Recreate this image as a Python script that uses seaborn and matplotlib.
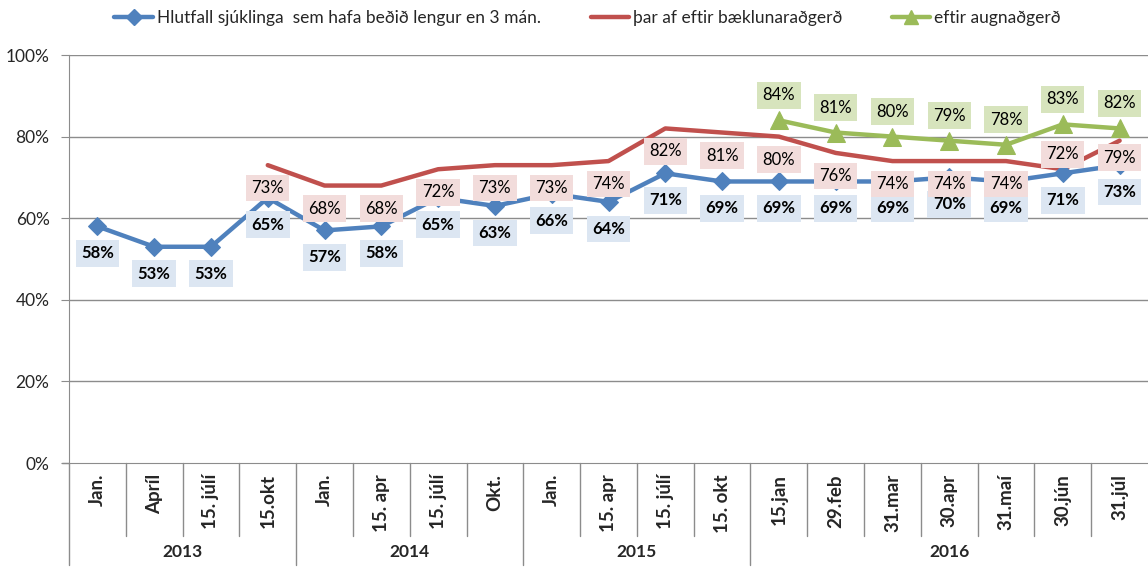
import matplotlib
matplotlib.use("Agg")
import matplotlib.pyplot as plt
import numpy as np
import pandas as pd
import seaborn as sns
from matplotlib.lines import Line2D

# categories (x axis) and year groups
dates = ["Jan.", "Apríl", "15. júlí", "15.okt",
         "Jan.", "15. apr", "15. júlí", "Okt.",
         "Jan.", "15. apr", "15. júlí", "15. okt",
         "15.jan", "29.feb", "31.mar", "30.apr", "31.maí", "30.jún", "31.júl"]
years = ["2013", "2014", "2015", "2016"]
year_sizes = [4, 4, 4, 7]

# series values (%)
bidlisti = [58, 53, 53, 65, 57, 58, 65, 63, 66, 64, 71, 69, 69, 69, 69, 70, 69, 71, 73]
baeklun = [73, 68, 68, 72, 73, 73, 74, 82, 81, 80, 76, 74, 74, 74, 72, 79]  # from 15.okt 2013
augu = [84, 81, 80, 79, 78, 83, 82]  # from 15.jan 2016

names = ["Hlutfall sjúklinga  sem hafa beðið lengur en 3 mán.",
         "þar af eftir bæklunaraðgerð",
         "eftir augnaðgerð"]

BLUE, RED, GREEN = "#4F81BD", "#C0504D", "#9BBB59"
GRID = "#8C8C8C"

sns.set_style("white")
plt.rcParams["font.family"] = ["Lato", "DejaVu Sans"]

n = len(dates)
df_blue = pd.DataFrame({"x": np.arange(n), "y": bidlisti})
df_red = pd.DataFrame({"x": np.arange(n - len(baeklun), n), "y": baeklun})
df_green = pd.DataFrame({"x": np.arange(n - len(augu), n), "y": augu})

fig = plt.figure(figsize=(11.48, 5.73), dpi=100)
ax = fig.add_axes([69 / 1148, 1 - 463 / 573, 1 - 69 / 1148, (463 - 55) / 573])

sns.lineplot(data=df_blue, x="x", y="y", ax=ax, color=BLUE, lw=3.2, marker="D",
             markersize=9, markeredgecolor=BLUE, zorder=4)
sns.lineplot(data=df_red, x="x", y="y", ax=ax, color=RED, lw=3.2, zorder=3)
sns.lineplot(data=df_green, x="x", y="y", ax=ax, color=GREEN, lw=3.2, marker="^",
             markersize=13, markeredgecolor=GREEN, zorder=5)

ax.set_xlim(-0.5, n - 0.5)
ax.set_ylim(0, 100)
ax.set_yticks(range(0, 101, 20))
ax.set_yticklabels([f"{v}%" for v in range(0, 101, 20)], fontsize=12.5)
ax.set_xticks([])
ax.set_xlabel("")
ax.set_ylabel("")
ax.tick_params(axis="y", length=6, color=GRID, pad=8, left=True)
for v in range(20, 101, 20):
    ax.axhline(v, color=GRID, lw=1, zorder=1)
for s in ["top", "right"]:
    ax.spines[s].set_visible(False)
ax.spines["left"].set_color(GRID)
ax.spines["bottom"].set_color(GRID)
ax.spines["left"].set_bounds(0, 100)


# data labels
def labels(df, bg, dy, weight, z, special=None):
    special = special or {}
    for x, y in zip(df["x"], df["y"]):
        off = special.get(x, dy)
        ax.annotate(f"{y}%", (x, y), xytext=(0, off), textcoords="offset pixels",
                    ha="center", va="center", fontsize=12, fontweight=weight,
                    color="black", zorder=z,
                    bbox=dict(boxstyle="square,pad=0.32", fc=bg, ec="none"))


labels(df_blue, "#DCE6F2", -27, "bold", 6)
labels(df_red, "#F2DCDB", -23, "normal", 7, special={17: 15, 18: -17})
labels(df_green, "#D7E4BD", 25, "normal", 7)

# multi-level x axis
trans = ax.get_xaxis_transform()
h = 408.0
for i, lab in enumerate(dates):
    ax.text(i, -11 / h, lab, rotation=90, ha="center", va="top", fontsize=13.5,
            fontweight="bold", transform=trans)
bounds = np.cumsum(year_sizes)
for i in range(1, n):
    end = -102 / h if i in bounds else -73 / h
    ax.add_line(Line2D([i - 0.5, i - 0.5], [0, end], color=GRID, lw=1,
                       transform=trans, clip_on=False))
ax.add_line(Line2D([-0.5, -0.5], [0, -102 / h], color=GRID, lw=1,
                   transform=trans, clip_on=False))
ax.add_line(Line2D([-0.62, -0.5], [0, 0], color=GRID, lw=1,
                   transform=trans, clip_on=False))
start = 0
for yr, size in zip(years, year_sizes):
    ax.text(start + (size - 1) / 2, -89 / h, yr, ha="center", va="center",
            fontsize=12.5, fontweight="bold", transform=trans)
    start += size

handles = [Line2D([], [], color=BLUE, lw=3.2, marker="D", markersize=8),
           Line2D([], [], color=RED, lw=3.2),
           Line2D([], [], color=GREEN, lw=3.2, marker="^", markersize=10)]
fig.legend(handles, names, loc="center", bbox_to_anchor=(0.512, 1 - 18 / 573), ncol=3,
           frameon=False, fontsize=12.5, columnspacing=2.85, handlelength=2.2,
           handletextpad=0.25)

fig.savefig("out.png", dpi=100)
